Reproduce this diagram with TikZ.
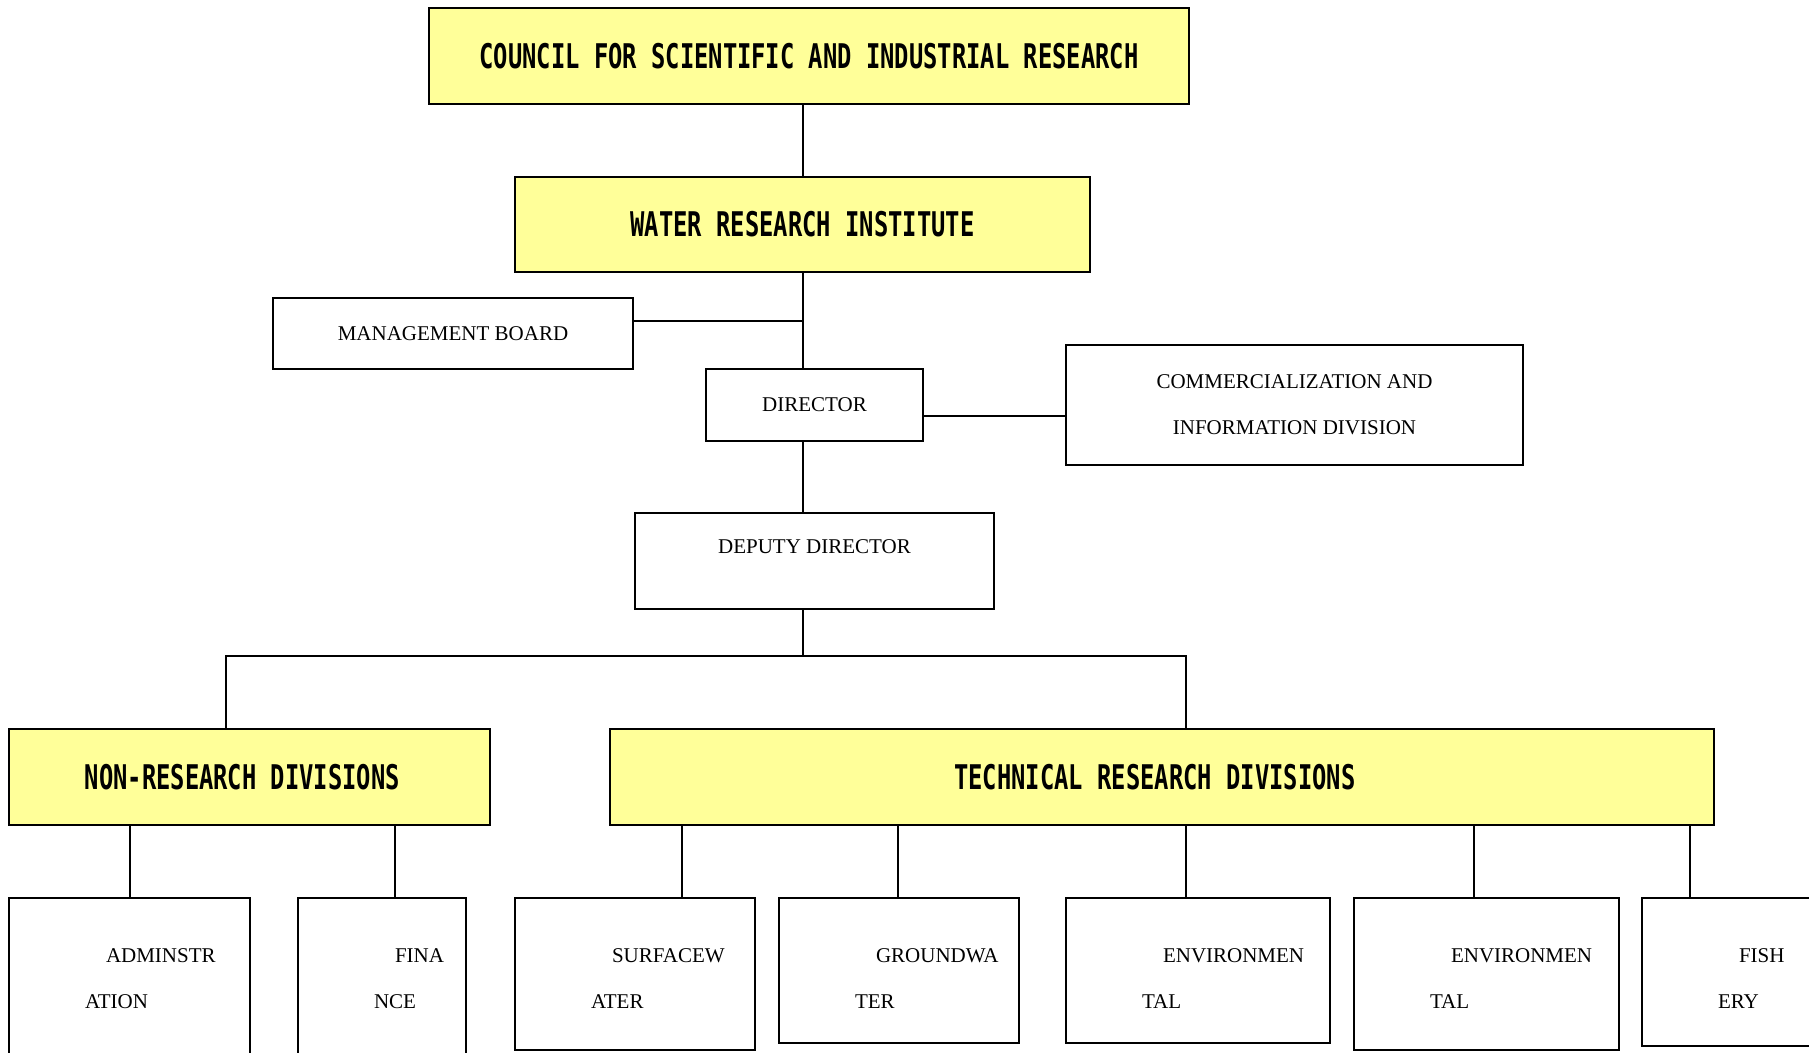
\documentclass[tikz,border=0pt]{standalone}
\usepackage{fontspec}
\setmainfont{Liberation Serif}
\newfontfamily\headfont[FakeStretch=0.7]{DejaVu Sans Mono}
\usepackage{tikz}
\definecolor{headyellow}{HTML}{FFFF99}
\tikzstyle{box} = [draw=black, line width=2pt, rectangle, inner sep=0pt, align=center, font={\fontsize{21pt}{46pt}\selectfont}]
\tikzstyle{head} = [box, fill=headyellow, font={\headfont\fontsize{34pt}{40pt}\selectfont\bfseries}]
\tikzstyle{unit} = [box, align=left, inner xsep=76pt, text height=64pt]
\tikzstyle{link} = [draw=black, line width=2pt]

\begin{document}
\begin{tikzpicture}[x=1pt,y=1pt]
        \clip (0,0) rectangle (1809,-1052);
        % top of the chart
        \node[head,minimum width=760pt,minimum height=96pt](csir) at (809,-56){COUNCIL FOR SCIENTIFIC AND INDUSTRIAL RESEARCH};
        \node[head,minimum width=575pt,minimum height=95pt](wri) at (802.5,-224.5){WATER RESEARCH INSTITUTE};
        \node[box,minimum width=360pt,minimum height=71pt](mb) at (453,-333.5){MANAGEMENT BOARD};
        \node[box,minimum width=217pt,minimum height=72pt](dir) at (814.5,-405){DIRECTOR};
        \node[box,minimum width=457pt,minimum height=120pt](cid) at (1294.5,-405){COMMERCIALIZATION AND\\INFORMATION DIVISION};
        \node[box,minimum width=359pt,minimum height=96pt,text depth=28pt](dep) at (814.5,-561){DEPUTY DIRECTOR};
        % divisions
        \node[head,minimum width=481pt,minimum height=96pt](nrd) at (249.5,-777){NON-RESEARCH DIVISIONS\hphantom{X}};
        \node[head,minimum width=1104pt,minimum height=96pt](trd) at (1162,-777){TECHNICAL RESEARCH DIVISIONS\hphantom{X}};
        \node[unit,text width=89pt,text depth=96pt](adm) at (129.5,-978){\mbox{\hspace*{21pt}ADMINSTR}\\ATION};
        \node[unit,text width=16pt,text depth=96pt](fin) at (382,-978){\mbox{\hspace*{21pt}FINA}\\NCE};
        \node[unit,text width=88pt,text depth=88pt](sw) at (635,-974){\mbox{\hspace*{21pt}SURFACEW}\\ATER};
        \node[unit,text width=88pt,text depth=81pt](gw) at (899,-970.5){\mbox{\hspace*{21pt}GROUNDWA}\\TER};
        \node[unit,text width=112pt,text depth=81pt](env1) at (1198,-970.5){\mbox{\hspace*{21pt}ENVIRONMEN}\\TAL};
        \node[unit,text width=113pt,text depth=88pt](env2) at (1486.5,-974){\mbox{\hspace*{21pt}ENVIRONMEN}\\TAL};
        \node[unit,text width=113pt,text depth=84pt](fish) at (1774.5,-972){\mbox{\hspace*{21pt}FISH}\\ERY};
        \coordinate(mbj) at (802.5,-321);
        \coordinate(cidj) at (1066,-416);
        \coordinate(split) at (802.5,-656);
        \coordinate(nrdj) at (226,-729);
        \coordinate(trdj) at (1186,-729);
        \coordinate(admj) at (130,-898);
        \coordinate(finj) at (395,-898);
        \coordinate(swj) at (682,-898);
        \coordinate(gwj) at (898,-898);
        \coordinate(env1j) at (1186,-898);
        \coordinate(env2j) at (1474,-898);
        \coordinate(fishj) at (1690,-898);
        \draw[link](csir.south -| wri.north)--(wri.north);
        \draw[link](wri.south)--(wri.south |- dir.north);
        \draw[link](mbj)--(mbj -| mb.east);
        \draw[link](cidj)--(cidj -| dir.east);
        \draw[link](wri.south |- dir.south)--(wri.south |- dep.north);
        \draw[link](wri.south |- dep.south)--(split);
        \draw[link](nrdj)|-(split)-|(trdj);
        \foreach \c/\p in {admj/nrd,finj/nrd,swj/trd,gwj/trd,env1j/trd,env2j/trd,fishj/trd}
          \draw[link](\c)--(\c |- \p.south);
      \end{tikzpicture}
\end{document}
